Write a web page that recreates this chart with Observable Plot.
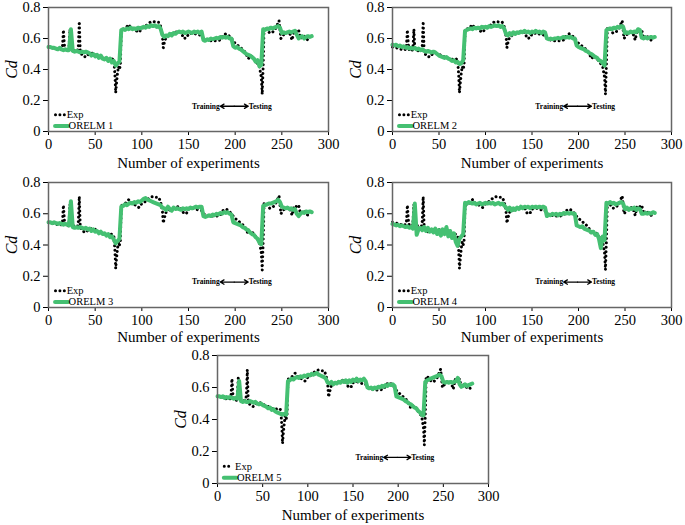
<!DOCTYPE html>
<html><head><meta charset="utf-8">
<script src="https://cdn.jsdelivr.net/npm/d3@7"></script>
<script src="https://cdn.jsdelivr.net/npm/@observablehq/plot@0.6"></script>
<style>
body{margin:0;background:#fff}
#wrap{position:relative;width:685px;height:525px;overflow:hidden;background:#fff}
.panel{position:absolute}
.panel svg{overflow:visible}
</style>
</head><body><div id="wrap"></div>
<script>
// ---- data ----
const xTicks = [0, 50, 100, 150, 200, 250, 300];
const yTicks = [0, 0.2, 0.4, 0.6, 0.8];
const xLabel = "Number of experiments";
const yLabel = "Cd";
const expLabel = "Exp";
const modelLabels = ["ORELM 1", "ORELM 2", "ORELM 3", "ORELM 4", "ORELM 5"];
const splitLabels = ["Training", "Testing"];
const splitStart = 184, splitEnd = 214, splitMid = 199;

// experimental Cd (vertices of the dotted series)
const expX = [0,4,8,11,14,15,16,17,18,21,22,23,24,26,28,31,32,33,34,36,38,40,43,47,50,53,57,60,65,68,70,71,72,73,74,75,76,77,78,80,83,86,88,91,94,97,100,103,106,109,112,115,118,120,122,123,124,126,130,134,138,142,145,148,150,155,160,164,166,170,175,180,184,187,190,193,196,199,202,205,208,211,214,217,220,223,226,228,229,230,231,234,237,240,243,246,247,249,252,255,258,261,263,266,268,270,273,276,278,281];
const expY = [0.545,0.54,0.535,0.525,0.53,0.55,0.655,0.56,0.525,0.52,0.54,0.66,0.535,0.525,0.52,0.52,0.55,0.71,0.52,0.49,0.485,0.48,0.5,0.505,0.5,0.485,0.48,0.47,0.465,0.47,0.46,0.38,0.25,0.32,0.38,0.42,0.4,0.43,0.65,0.66,0.67,0.69,0.67,0.665,0.65,0.64,0.665,0.675,0.69,0.705,0.71,0.705,0.705,0.68,0.62,0.54,0.57,0.61,0.625,0.635,0.645,0.64,0.6,0.605,0.63,0.635,0.625,0.62,0.6,0.59,0.585,0.585,0.59,0.62,0.63,0.62,0.6,0.575,0.56,0.545,0.53,0.51,0.47,0.49,0.47,0.445,0.42,0.35,0.24,0.42,0.67,0.66,0.635,0.64,0.66,0.7,0.715,0.6,0.625,0.64,0.64,0.59,0.65,0.645,0.655,0.6,0.62,0.6,0.59,0.6];

// ORELM predictions, sampled every 2 experiments from 0 to 282
const orelmX = [0,2,4,6,8,10,12,14,16,18,20,22,24,26,28,30,32,34,36,38,40,42,44,46,48,50,52,54,56,58,60,62,64,66,68,70,72,74,76,78,80,82,84,86,88,90,92,94,96,98,100,102,104,106,108,110,112,114,116,118,120,122,124,126,128,130,132,134,136,138,140,142,144,146,148,150,152,154,156,158,160,162,164,166,168,170,172,174,176,178,180,182,184,186,188,190,192,194,196,198,200,202,204,206,208,210,212,214,216,218,220,222,224,226,228,230,232,234,236,238,240,242,244,246,248,250,252,254,256,258,260,262,264,266,268,270,272,274,276,278,280,282];

const orelm1 = [.545,.545,.54,.54,.535,.53,.54,.53,.525,.53,.525,.525,.66,.52,.515,.52,.515,.51,.515,.51,.515,.51,.505,.49,.5,.485,.495,.475,.49,.47,.465,.475,.455,.47,.445,.455,.425,.44,.45,.655,.66,.655,.665,.66,.67,.66,.665,.66,.67,.665,.67,.675,.67,.68,.675,.685,.68,.685,.675,.68,.665,.625,.61,.62,.615,.63,.62,.635,.63,.64,.645,.64,.645,.635,.64,.645,.64,.635,.645,.64,.645,.635,.645,.59,.585,.595,.59,.6,.595,.6,.605,.6,.61,.605,.61,.605,.61,.6,.6,.55,.54,.545,.535,.53,.52,.51,.5,.495,.49,.48,.47,.45,.46,.42,.43,.66,.655,.665,.66,.67,.665,.67,.675,.68,.67,.635,.64,.635,.64,.645,.64,.645,.65,.625,.6,.61,.615,.6,.61,.615,.61,.615];

const orelm2 = [.56,.555,.56,.55,.555,.545,.55,.54,.545,.535,.54,.535,.54,.53,.535,.525,.53,.52,.515,.52,.515,.51,.515,.51,.5,.49,.485,.48,.475,.48,.47,.465,.455,.46,.445,.45,.435,.44,.46,.65,.655,.66,.665,.66,.67,.665,.67,.665,.675,.67,.675,.67,.68,.675,.68,.685,.68,.685,.675,.68,.665,.63,.62,.635,.625,.64,.63,.64,.635,.645,.64,.65,.64,.645,.635,.645,.64,.65,.64,.645,.635,.645,.64,.6,.595,.6,.595,.6,.6,.605,.6,.605,.61,.605,.61,.605,.61,.6,.6,.555,.545,.54,.535,.53,.52,.515,.505,.5,.49,.48,.475,.46,.455,.44,.425,.655,.66,.665,.66,.67,.665,.675,.67,.68,.675,.635,.64,.635,.645,.64,.645,.64,.66,.655,.605,.6,.61,.6,.605,.61,.605,.61];

const orelm3 = [.545,.545,.54,.545,.54,.535,.54,.535,.53,.535,.53,.525,.68,.515,.51,.515,.51,.515,.51,.505,.51,.5,.505,.49,.5,.485,.49,.475,.485,.47,.475,.46,.47,.45,.455,.435,.41,.425,.44,.645,.65,.66,.655,.665,.67,.665,.675,.67,.68,.675,.685,.695,.7,.69,.685,.68,.675,.67,.665,.66,.655,.64,.635,.625,.645,.63,.62,.64,.63,.635,.63,.625,.635,.63,.635,.63,.64,.635,.64,.645,.64,.645,.645,.585,.58,.585,.59,.585,.595,.59,.6,.595,.605,.6,.61,.605,.61,.6,.595,.545,.54,.535,.53,.525,.515,.51,.5,.495,.48,.47,.465,.45,.44,.415,.405,.65,.655,.66,.665,.665,.67,.675,.68,.69,.675,.645,.64,.635,.64,.63,.635,.625,.63,.6,.585,.6,.61,.605,.615,.61,.615,.61];

const orelm4 = [.535,.53,.525,.53,.52,.525,.52,.515,.52,.51,.515,.505,.665,.465,.5,.51,.495,.515,.49,.51,.485,.5,.48,.505,.47,.495,.46,.5,.47,.515,.455,.49,.445,.475,.42,.395,.44,.455,.47,.67,.665,.675,.67,.665,.67,.66,.665,.67,.66,.665,.67,.665,.67,.665,.67,.66,.665,.67,.66,.665,.655,.64,.625,.64,.62,.635,.625,.64,.63,.645,.635,.645,.64,.645,.635,.645,.64,.645,.64,.645,.64,.645,.64,.585,.595,.59,.6,.595,.6,.59,.6,.595,.605,.6,.605,.6,.605,.6,.6,.525,.52,.515,.52,.505,.5,.495,.49,.48,.485,.465,.47,.44,.38,.455,.43,.67,.665,.675,.665,.67,.66,.665,.67,.675,.665,.63,.64,.625,.635,.63,.64,.625,.635,.63,.6,.6,.605,.6,.605,.6,.61,.605];

const orelm5 = [.545,.545,.54,.545,.535,.54,.535,.54,.535,.53,.535,.53,.64,.515,.51,.515,.51,.51,.515,.51,.505,.51,.5,.495,.5,.49,.485,.48,.47,.475,.46,.465,.45,.445,.44,.435,.43,.435,.43,.64,.645,.655,.65,.66,.665,.66,.67,.665,.675,.67,.68,.675,.685,.68,.685,.69,.68,.675,.67,.665,.655,.63,.625,.635,.62,.63,.625,.635,.63,.64,.635,.645,.63,.645,.635,.65,.64,.655,.64,.65,.645,.655,.64,.6,.595,.6,.59,.6,.595,.605,.6,.61,.605,.615,.61,.62,.615,.62,.61,.545,.54,.535,.53,.525,.515,.51,.5,.495,.485,.475,.47,.455,.445,.43,.425,.635,.645,.65,.655,.66,.665,.67,.675,.68,.67,.635,.63,.635,.63,.635,.63,.635,.64,.66,.62,.605,.61,.62,.61,.615,.62,.625];

const series = [orelm1, orelm2, orelm3, orelm4, orelm5];

// ---- layout ----
const green = "#45c072";
const serif = "'Liberation Serif', 'Times New Roman', serif";
const layout = [
  {left: 0,     top: 0,   w: 340, ph: 124, mb: 41, mr: 12, ldy: 32},
  {left: 343.5, top: 0,   w: 340, ph: 124, mb: 41, mr: 13, ldy: 32},
  {left: 0,     top: 175, w: 340, ph: 125, mb: 41, mr: 12, ldy: 30},
  {left: 343.5, top: 175, w: 340, ph: 125, mb: 41, mr: 13, ldy: 30},
  {left: 168.5, top: 348, w: 331, ph: 128, mb: 42, mr: 12, ldy: 32}
];

const expData = expX.map((x, i) => ({x, y: expY[i]}));
const wrap = document.getElementById("wrap");

series.forEach((vals, k) => {
  const L = layout[k];
  const pred = orelmX.map((x, i) => ({x, y: vals[i]}));
  const chart = Plot.plot({
    width: L.w, height: 7 + L.ph + L.mb,
    marginLeft: 48, marginRight: L.mr, marginTop: 7, marginBottom: L.mb,
    style: {fontFamily: serif, fontSize: "14px", color: "#000", background: "transparent"},
    x: {domain: [0, 300]},
    y: {domain: [0, 0.8]},
    marks: [
      Plot.axisX({ticks: xTicks, tickSize: 4, tickPadding: 3, tickFormat: d => String(d), label: null, fontSize: 14.5, fontFamily: serif}),
      Plot.axisY({ticks: yTicks, tickSize: 5, tickPadding: 3, tickFormat: d => String(+d.toFixed(1)), label: null, fontSize: 14.5, fontFamily: serif}),
      Plot.line(expData, {x: "x", y: "y", stroke: "#000", strokeWidth: 3, strokeDasharray: "0.01 4.4", strokeLinecap: "round"}),
      Plot.line(pred, {x: "x", y: "y", stroke: green, strokeWidth: 4, strokeLinejoin: "round"}),
      Plot.frame({stroke: "#666", strokeWidth: 1.5}),
      Plot.text([xLabel], {frameAnchor: "bottom", lineAnchor: "middle", dy: L.ldy, fontSize: 15, fontFamily: serif, fill: "#000"}),
      Plot.text([yLabel], {frameAnchor: "left", textAnchor: "middle", lineAnchor: "middle", dx: -37, rotate: -90, fontStyle: "italic", fontSize: 16, fontFamily: serif, fill: "#000"}),
      // legend
      Plot.line([{x: 7.5, y: 0.108}, {x: 17, y: 0.108}], {x: "x", y: "y", stroke: "#000", strokeWidth: 3, strokeDasharray: "0.01 4.4", strokeLinecap: "round"}),
      Plot.text([expLabel], {x: () => 19.5, y: () => 0.108, textAnchor: "start", fontSize: 10.5, fontFamily: serif, fill: "#000"}),
      Plot.line([{x: 7, y: 0.036}, {x: 21, y: 0.036}], {x: "x", y: "y", stroke: green, strokeWidth: 4}),
      Plot.text([modelLabels[k]], {x: () => 21.5, y: () => 0.036, textAnchor: "start", fontSize: 10.5, fontFamily: serif, fill: "#000"}),
      // training / testing annotation
      Plot.text([splitLabels[0]], {x: () => splitStart - 0.5, y: () => 0.163, textAnchor: "end", fontWeight: "bold", fontSize: 7.5, fontFamily: serif, fill: "#000"}),
      Plot.arrow([{a: splitMid, b: splitStart}, {a: splitMid, b: splitEnd}], {x1: "a", x2: "b", y1: () => 0.163, y2: () => 0.163, stroke: "#000", strokeWidth: 1.3, headLength: 5}),
      Plot.text([splitLabels[1]], {x: () => splitEnd + 0.5, y: () => 0.163, textAnchor: "start", fontWeight: "bold", fontSize: 7.5, fontFamily: serif, fill: "#000"})
    ]
  });
  const div = document.createElement("div");
  div.className = "panel";
  div.style.left = L.left + "px";
  div.style.top = L.top + "px";
  div.appendChild(chart);
  wrap.appendChild(div);
});
</script>
</body></html>
